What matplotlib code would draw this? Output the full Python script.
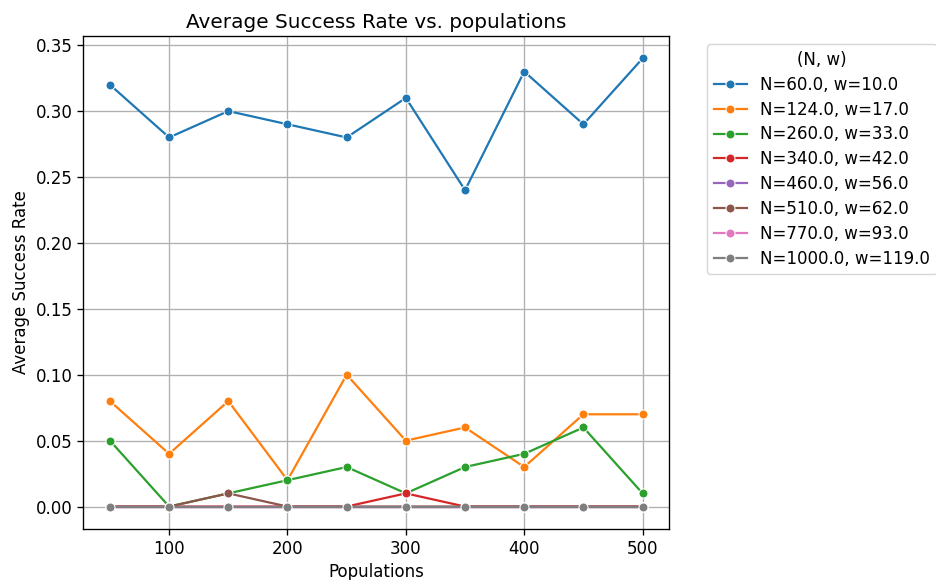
import numpy as np
import matplotlib
matplotlib.use("Agg")
from matplotlib import pyplot as plt

populations = [50, 100, 150, 200, 250, 300, 350, 400, 450, 500]
labels = ["N=60.0, w=10.0", "N=124.0, w=17.0", "N=260.0, w=33.0",
          "N=340.0, w=42.0", "N=460.0, w=56.0", "N=510.0, w=62.0",
          "N=770.0, w=93.0", "N=1000.0, w=119.0"]
rate_60 = [0.32, 0.28, 0.30, 0.29, 0.28, 0.31, 0.24, 0.33, 0.29, 0.34]
rate_124 = [0.08, 0.04, 0.08, 0.02, 0.10, 0.05, 0.06, 0.03, 0.07, 0.07]
rate_260 = [0.05, 0.00, 0.01, 0.02, 0.03, 0.01, 0.03, 0.04, 0.06, 0.01]
rate_340 = [0.00, 0.00, 0.00, 0.00, 0.00, 0.01, 0.00, 0.00, 0.00, 0.00]
rate_460 = [0.00, 0.00, 0.00, 0.00, 0.00, 0.00, 0.00, 0.00, 0.00, 0.00]
rate_510 = [0.00, 0.00, 0.01, 0.00, 0.00, 0.00, 0.00, 0.00, 0.00, 0.00]
rate_770 = [0.00, 0.00, 0.00, 0.00, 0.00, 0.00, 0.00, 0.00, 0.00, 0.00]
rate_1000 = [0.00, 0.00, 0.00, 0.00, 0.00, 0.00, 0.00, 0.00, 0.00, 0.00]
rates = [rate_60, rate_124, rate_260, rate_340, rate_460, rate_510, rate_770, rate_1000]

# text a bit bigger than the defaults
s = 1.2
plt.rcParams.update({
    'font.size': 10 * s,
    'axes.linewidth': 0.8 * s,
    'xtick.major.size': 3.5 * s,
    'ytick.major.size': 3.5 * s,
    'xtick.major.width': 0.8 * s,
    'ytick.major.width': 0.8 * s,
    'grid.linewidth': 0.8 * s,
})

fig = plt.figure(figsize=(9.36, 5.8), dpi=100)
ax = fig.add_axes([0.089, 0.088, 0.626, 0.85])

for i, (lab, r) in enumerate(zip(labels, rates)):
    ax.plot(populations, r, marker='o', color='C%d' % i, label=lab,
            linewidth=1.6, markersize=6.5, markeredgecolor='white',
            markeredgewidth=0.75)

ax.set_title("Average Success Rate vs. populations", fontsize=12 * s)
ax.set_xlabel("Populations")
ax.set_ylabel("Average Success Rate")
ax.set_xticks([100, 200, 300, 400, 500])
ax.set_yticks(np.arange(0, 0.351, 0.05))
ax.grid(True, color='#b0b0b0')
ax.legend(title="(N, w)", bbox_to_anchor=(1.05, 1), loc='upper left',
          labelspacing=0.41)

fig.savefig("out.png", dpi=100)
